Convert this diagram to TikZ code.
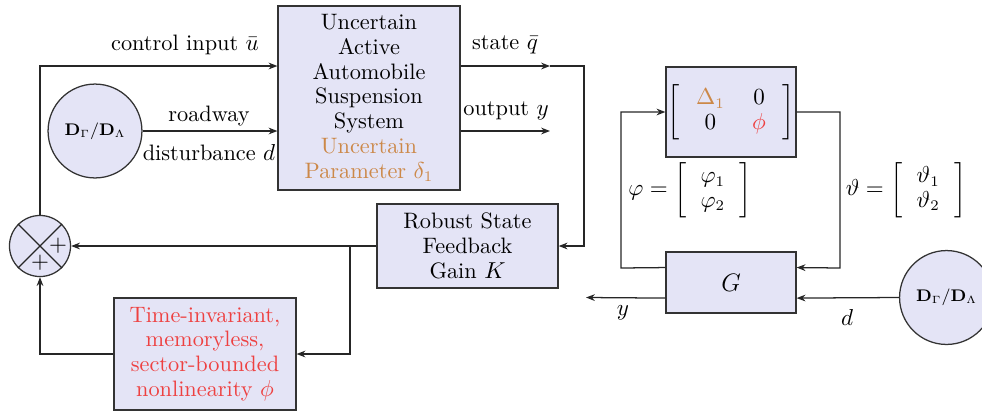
\documentclass[tikz,border=0pt]{standalone}
\usepackage{amsmath}
\usetikzlibrary{arrows.meta,calc}
\definecolor{boxfill}{RGB}{228,228,246}
\definecolor{orng}{RGB}{204,136,72}
\definecolor{rd}{RGB}{238,64,64}
\tikzset{
  blk/.style={draw=black!80, fill=boxfill, line width=0.6pt, align=center, inner sep=0pt},
  dcirc/.style={draw=black!80, fill=boxfill, line width=0.6pt, circle, minimum size=44.6pt, inner sep=0pt, font=\fontsize{7.8}{9}\selectfont},
  conn/.style={line width=0.6pt, draw=black!85},
  arr/.style={conn, -{Stealth[length=4.2pt,width=3.2pt]}},
  lbl/.style={inner sep=0pt},
}
\begin{document}
\begin{tikzpicture}[x=0.475pt,y=-0.475pt, font=\fontsize{10.6}{11.8}\selectfont]
\useasboundingbox (0,0) rectangle (982,414);
% blocks
\node[blk, minimum width=86.4pt, minimum height=87.4pt] (main) at (369,98)
  {Uncertain\\Active\\Automobile\\Suspension\\System\\{\color{orng}Uncertain}\\{\color{orng}Parameter~$\delta_1$}};
\node[blk, minimum width=86pt, minimum height=39.9pt] (rob) at (467.5,246)
  {Robust State\\Feedback\\Gain~$K$};
\node[blk, minimum width=86.4pt, minimum height=53.2pt, text=rd] (nl) at (205,354)
  {Time-invariant,\\memoryless,\\sector-bounded\\nonlinearity~$\phi$};
\node[blk, minimum width=61.75pt, minimum height=42.75pt] (del) at (731,112)
  {$\left[\begin{array}{@{\hspace{8pt}}c@{\hspace{13pt}}c@{\hspace{8pt}}}{\color{orng}\Delta_1} & 0\\ 0 & {\color{rd}\phi}\end{array}\right]$};
\node[blk, minimum width=61.75pt, minimum height=29pt] (G) at (731,282.5) {\large $G$};
\node[dcirc] (dl) at (95,131) {$\mathbf{D}_\Gamma/\mathbf{D}_\Lambda$};
\node[dcirc] (dr) at (946.5,297.5) {$\mathbf{D}_\Gamma/\mathbf{D}_\Lambda$};
\node[draw=black!80, fill=boxfill, line width=0.6pt, circle, minimum size=29pt, inner sep=0pt] (sum) at (40,246) {};
\draw[conn] (sum.45) -- (sum.225) (sum.135) -- (sum.315);
\node[lbl] (p1) at (58,246) {$+$};
\node[lbl] (p2) at (40,263) {$+$};
% coordinates
\coordinate (cu) at (40,66);
\coordinate (qs) at (550,66);
\coordinate (qc) at (584,66);
\coordinate (qo) at (550,131);
\coordinate (br) at (350,246);
\coordinate (gl) at (621,268);
\coordinate (gr) at (840,268);
\coordinate (yo) at (586,297.5);
% connectors
\draw[arr] (sum.north) -- (cu) -- (cu -| main.west);
\draw[arr] (dl.east) -- (dl.east -| main.west);
\draw[arr] (cu -| main.east) -- (qs);
\draw[arr] (qs) -- (qc) |- (rob.east);
\draw[arr] (qo -| main.east) -- (qo);
\draw[arr] (rob.west) -- (sum.east);
\draw[arr] (br) |- (nl.east);
\draw[arr] (nl.west) -| (sum.south);
\draw[arr] ($(G.north west)!0.26!(G.south west)$) -- (gl) |- (del.west);
\draw[arr] (del.east) -| (gr) -- ($(G.north east)!0.26!(G.south east)$);
\draw[arr] ($(G.north west)!0.75!(G.south west)$) -- (yo);
\draw[arr] (dr.west) -- ($(G.north east)!0.75!(G.south east)$);
% labels
\node[lbl] (l1) at (185,45) {control input $\bar u$};
\node[lbl] (l2) at (209,116) {roadway};
\node[lbl] (l3) at (209,153) {disturbance $d$};
\node[lbl] (l4) at (505,45) {state $\bar q$};
\node[lbl] (l5) at (506,111) {output $y$};
\node[lbl] (l6) at (690,190) {$\varphi = \left[\,\begin{array}{c}\varphi_1\\ \varphi_2\end{array}\,\right]$};
\node[lbl] (l7) at (906,190) {$\vartheta = \left[\,\begin{array}{c}\vartheta_1\\ \vartheta_2\end{array}\,\right]$};
\node[lbl] (l8) at (623,313) {$y$};
\node[lbl] (l9) at (847,317) {$d$};
\end{tikzpicture}
\end{document}
